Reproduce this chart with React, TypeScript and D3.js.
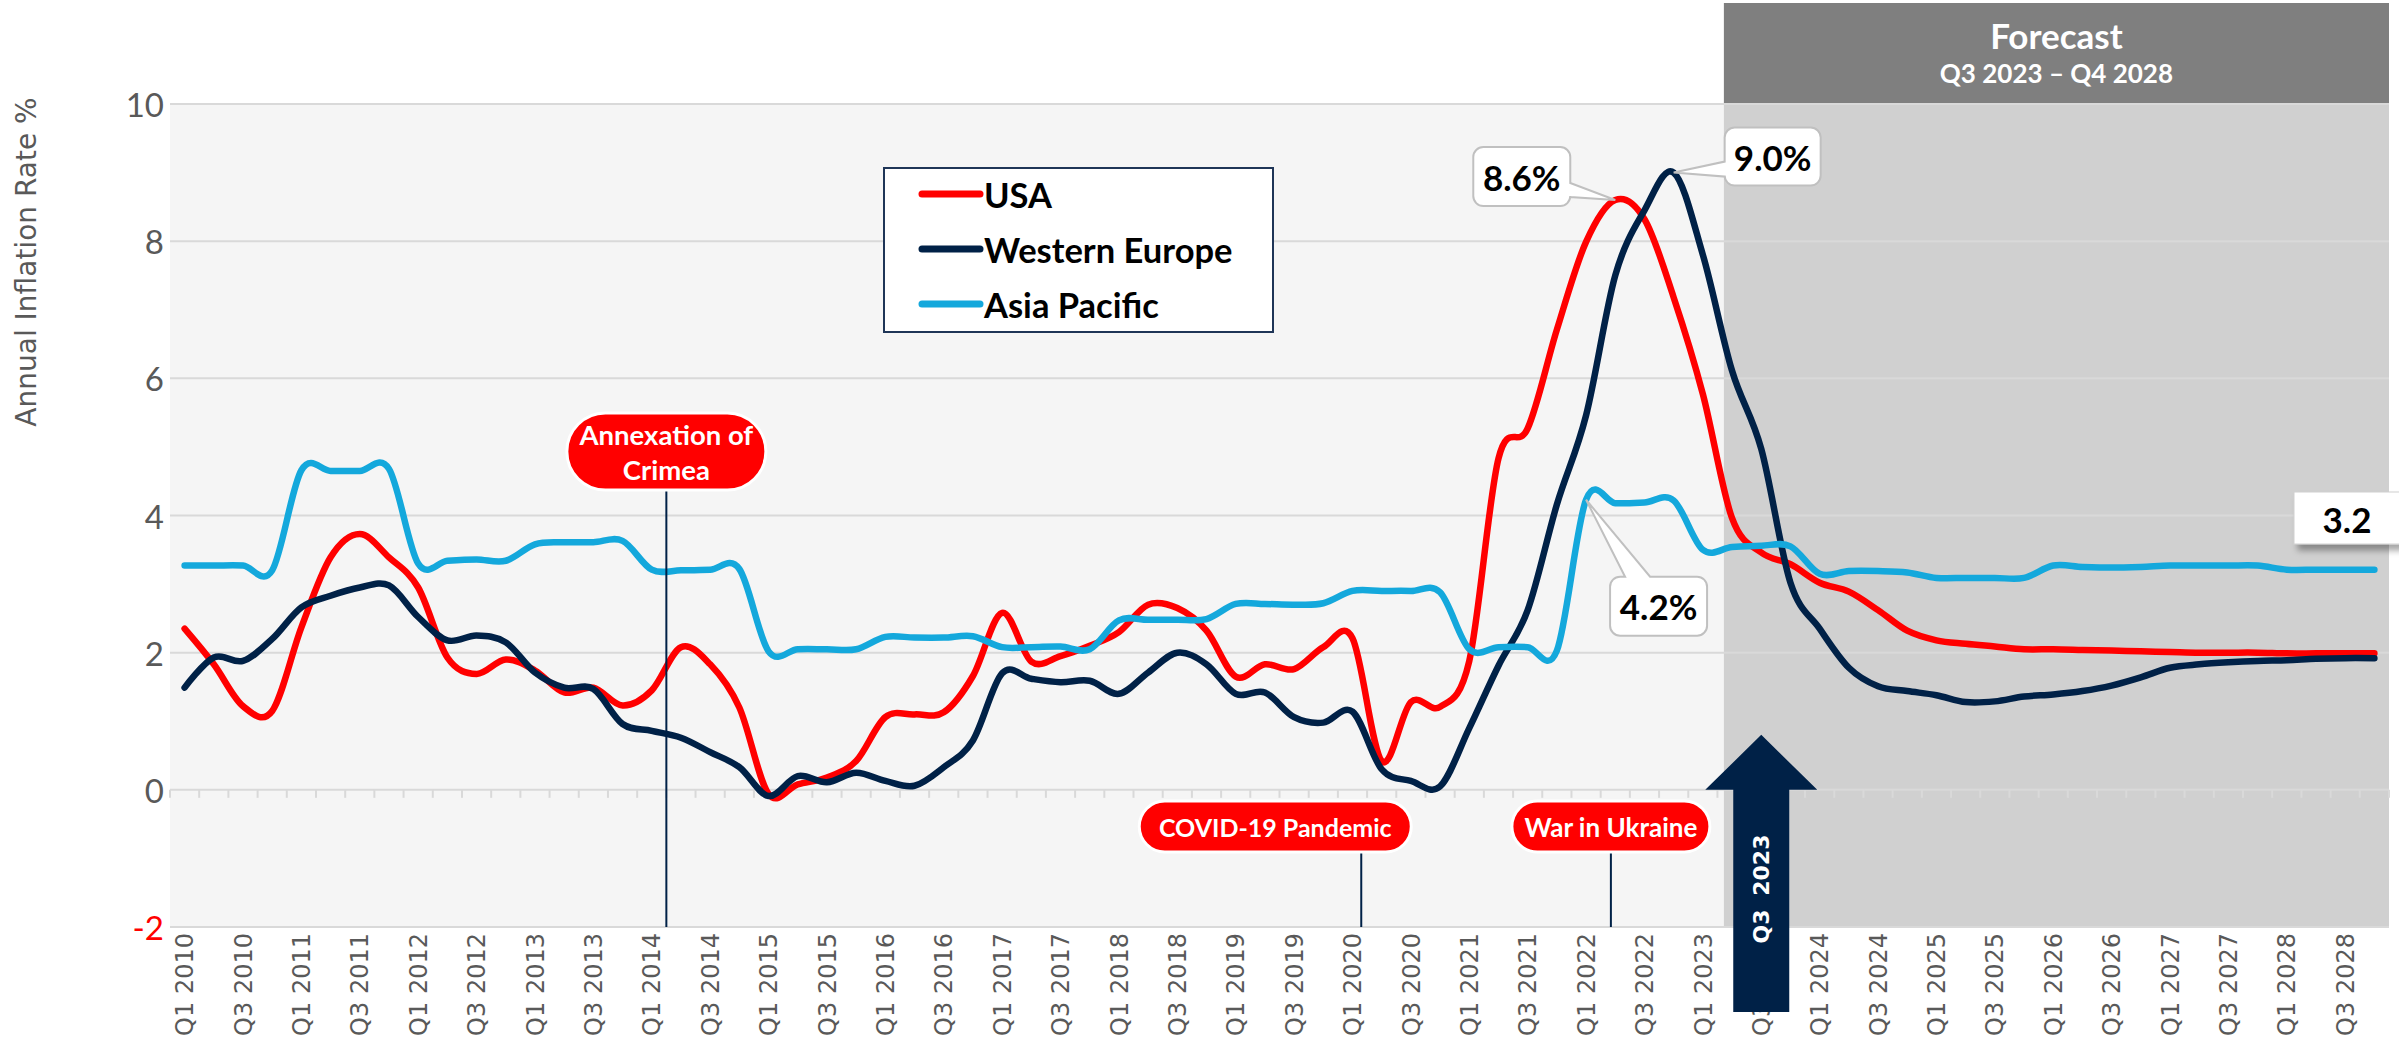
import React from 'react';
import * as d3 from 'd3';

// quarters shown on the axis
const years = [2010, 2011, 2012, 2013, 2014, 2015, 2016, 2017, 2018, 2019, 2020, 2021, 2022, 2023, 2024, 2025, 2026, 2027, 2028];
const quarters = ['Q1', 'Q2', 'Q3', 'Q4'];
const categories = years.flatMap((y) => quarters.map((q) => `${q} ${y}`));
const labelQuarters = ['Q1', 'Q3'];

const usa = [
  2.35, 1.83, 1.22, 1.15, 2.37, 3.39, 3.73, 3.39, 2.95, 1.93, 1.69, 1.9,
  1.74, 1.42, 1.49, 1.23, 1.45, 2.08, 1.83, 1.2, -0.06, 0.08, 0.18, 0.42,
  1.06, 1.1, 1.13, 1.66, 2.58, 1.87, 1.95, 2.1, 2.3, 2.7, 2.65, 2.32,
  1.65, 1.83, 1.76, 2.08, 2.21, 0.42, 1.28, 1.21, 1.88, 4.83, 5.27, 6.71,
  7.99, 8.6, 8.32, 7.18, 5.77, 3.96, 3.46, 3.29, 3.02, 2.89, 2.62, 2.32,
  2.18, 2.13, 2.09, 2.05, 2.05, 2.04, 2.03, 2.02, 2.01, 2.0, 2.0, 2.0,
  1.99, 1.99, 1.99, 1.99,
];
const westernEurope = [
  1.49, 1.93, 1.88, 2.2, 2.66, 2.83, 2.95, 2.98, 2.52, 2.18, 2.25, 2.15,
  1.71, 1.49, 1.47, 0.96, 0.86, 0.76, 0.55, 0.33, -0.09, 0.2, 0.11, 0.25,
  0.13, 0.06, 0.33, 0.72, 1.7, 1.62, 1.57, 1.59, 1.4, 1.71, 2.0, 1.83,
  1.4, 1.42, 1.06, 0.98, 1.14, 0.3, 0.13, 0.05, 0.9, 1.81, 2.62, 4.16,
  5.46, 7.5, 8.45, 9.0, 7.8, 6.11, 4.97, 3.02, 2.35, 1.78, 1.51, 1.44,
  1.38, 1.28, 1.29, 1.36, 1.39, 1.44, 1.52, 1.64, 1.78, 1.83, 1.86, 1.88,
  1.89, 1.91, 1.92, 1.92,
];
const asiaPacific = [
  3.27, 3.27, 3.27, 3.2, 4.66, 4.65, 4.65, 4.68, 3.3, 3.34, 3.36, 3.34,
  3.58, 3.61, 3.61, 3.63, 3.21, 3.2, 3.21, 3.22, 2.02, 2.05, 2.05, 2.05,
  2.23, 2.22, 2.22, 2.24, 2.08, 2.08, 2.09, 2.05, 2.47, 2.48, 2.48, 2.49,
  2.71, 2.71, 2.7, 2.72, 2.9, 2.9, 2.9, 2.88, 2.05, 2.08, 2.08, 2.03,
  4.23, 4.18, 4.19, 4.22, 3.5, 3.54, 3.56, 3.55, 3.15, 3.19, 3.19, 3.17,
  3.09, 3.09, 3.09, 3.09, 3.27, 3.25, 3.24, 3.25, 3.27, 3.27, 3.27, 3.27,
  3.21, 3.21, 3.21, 3.21,
];

const seriesNames = ['USA', 'Western Europe', 'Asia Pacific'];
const seriesColors = ['#ff0000', '#002147', '#14a8dc'];
const yTicks = [-2, 0, 2, 4, 6, 8, 10];

const forecastFrom = 'Q2 2023';
const forecastTitle = 'Forecast';
const forecastRange = 'Q3 2023 \u2013 Q4 2028';
const arrowAt = 'Q3 2023';

// events: label lines, category, offset in bands from the category start
const events = [
  { lines: ['Annexation of', 'Crimea'], cat: 'Q2 2014', off: 0 },
  { lines: ['COVID-19 Pandemic'], cat: 'Q1 2020', off: 0.8 },
  { lines: ['War in Ukraine'], cat: 'Q2 2022', off: 0.35 },
];

const W = 2399;
const H = 1037;
const plot = { left: 170, right: 2389, top: 104, bottom: 927 };
const CAL = "Lato, 'Open Sans', sans-serif";
const VER = "'DejaVu Sans', Verdana, sans-serif";
const GRID = '#d9d9d9';
const NAVY = '#002147';

function callout(x, y, w, h, r, side, a, b, tip) {
  const [tx, ty] = tip;
  let p = `M${x + r},${y}`;
  if (side === 'top') p += `L${x + a},${y}L${tx},${ty}L${x + b},${y}`;
  p += `L${x + w - r},${y}A${r},${r} 0 0 1 ${x + w},${y + r}`;
  if (side === 'right') p += `L${x + w},${y + a}L${tx},${ty}L${x + w},${y + b}`;
  p += `L${x + w},${y + h - r}A${r},${r} 0 0 1 ${x + w - r},${y + h}`;
  p += `L${x + r},${y + h}A${r},${r} 0 0 1 ${x},${y + h - r}`;
  if (side === 'left') p += `L${x},${y + b}L${tx},${ty}L${x},${y + a}`;
  p += `L${x},${y + r}A${r},${r} 0 0 1 ${x + r},${y}Z`;
  return p;
}

export default function App() {
  const x = d3.scaleBand().domain(categories).range([plot.left, plot.right]).padding(0);
  const bw = x.bandwidth();
  const xc = (c) => x(c) + bw / 2;
  const y = d3.scaleLinear().domain([-2, 10]).range([plot.bottom, plot.top]);

  const line = d3
    .line()
    .x((d, i) => xc(categories[i]))
    .y((d) => y(d))
    .curve(d3.curveCardinal.tension(0));

  const series = [usa, westernEurope, asiaPacific];
  const fx = x(forecastFrom) + bw * 0.22;

  // peaks for the callouts
  const iUsa = d3.maxIndex(usa);
  const iWe = d3.maxIndex(westernEurope);
  const iAp = d3.maxIndex(asiaPacific.slice(40)) + 40;
  const tipUsa = [xc(categories[iUsa]), y(usa[iUsa])];
  const tipWe = [xc(categories[iWe]), y(westernEurope[iWe])];
  const tipAp = [xc(categories[iAp]), y(asiaPacific[iAp])];

  const ax = xc(arrowAt);
  const ay = y(0);
  const lastAp = asiaPacific[asiaPacific.length - 1];
  const xfs = 24;
  const pillFont = [27.5, 25, 26];

  return (
    <svg width={W} height={H} style={{ position: 'absolute', left: 0, top: 0, display: 'block' }}>
      <defs>
        <filter id="shadow" x="-20%" y="-20%" width="150%" height="160%">
          <feDropShadow dx="4" dy="6" stdDeviation="3" floodColor="#000" floodOpacity="0.35" />
        </filter>
      </defs>
      <rect x={plot.left} y={plot.top} width={plot.right - plot.left} height={plot.bottom - plot.top} fill="#f5f5f5" />
      <rect x={fx} y={plot.top} width={plot.right - fx} height={plot.bottom - plot.top} fill="#d0d0d0" />
      <rect x={fx} y={3} width={plot.right - fx} height={plot.top - 3} fill="#7f7f7f" />
      <text x={(fx + plot.right) / 2} y={35} fill="#fff" fontFamily={CAL} fontWeight="bold" fontSize={35} textAnchor="middle" dominantBaseline="central">{forecastTitle}</text>
      <text x={(fx + plot.right) / 2} y={73} fill="#fff" fontFamily={CAL} fontWeight="bold" fontSize={26} textAnchor="middle" dominantBaseline="central">{forecastRange}</text>

      {yTicks.map((t) => (
        <g key={t}>
          <line x1={plot.left} x2={plot.right} y1={y(t)} y2={y(t)} stroke={GRID} strokeWidth={2} />
          <text x={164} y={y(t)} fill={t < 0 ? '#ff0000' : '#595959'} fontFamily={CAL} fontSize={33} textAnchor="end" dominantBaseline="central">{t}</text>
        </g>
      ))}
      {d3.range(categories.length + 1).map((i) => (
        <line key={i} x1={plot.left + i * bw} x2={plot.left + i * bw} y1={y(0)} y2={y(0) + 8} stroke={GRID} strokeWidth={2} />
      ))}
      {categories.filter((c) => labelQuarters.includes(c.slice(0, 2))).map((c) => (
        <text key={c} transform={`translate(${xc(c) + xfs * 0.36},933) rotate(-90)`} fill="#595959" fontFamily={VER} fontSize={xfs} textAnchor="end">{c}</text>
      ))}
      <text transform="translate(26,262) rotate(-90)" fill="#595959" fontFamily={VER} fontSize={28} textAnchor="middle" dominantBaseline="central">Annual Inflation Rate %</text>

      {series.map((s, k) => (
        <path key={k} d={line(s)} fill="none" stroke={seriesColors[k]} strokeWidth={6.5} strokeLinecap="round" strokeLinejoin="round" />
      ))}

      {events.map((e, k) => {
        const lx = x(e.cat) + bw * e.off;
        const top = k === 0;
        const w = k === 0 ? 199 : k === 1 ? 272 : 198;
        const h = top ? 77 : 51;
        const py = top ? 413 : 801;
        const px = k === 1 ? lx - 222 : lx - w / 2;
        return (
          <g key={k}>
            <line x1={lx} x2={lx} y1={py + h} y2={plot.bottom} stroke={NAVY} strokeWidth={2} />
            <rect x={px} y={py} width={w} height={h} rx={h / 2} fill="#ff0000" stroke="#fff" strokeWidth={3} />
            {e.lines.map((t, j) => (
              <text key={j} x={px + w / 2} y={py + h / 2 + (j - (e.lines.length - 1) / 2) * 35} fill="#fff" fontFamily={CAL} fontWeight="bold" fontSize={pillFont[k]} textAnchor="middle" dominantBaseline="central">{t}</text>
            ))}
          </g>
        );
      })}

      <path d={callout(tipUsa[0] - 142, tipUsa[1] - 53, 97, 59, 10, 'right', 36, 50, tipUsa)} fill="#fff" stroke="#c0c0c0" strokeWidth={2} />
      <text x={tipUsa[0] - 93.5} y={tipUsa[1] - 23.5} fontFamily={CAL} fontWeight="bold" fontSize={35} textAnchor="middle" dominantBaseline="central">{`${usa[iUsa].toFixed(1)}%`}</text>
      <path d={callout(tipWe[0] + 51, tipWe[1] - 45, 96, 58, 10, 'left', 34, 49, tipWe)} fill="#fff" stroke="#c0c0c0" strokeWidth={2} />
      <text x={tipWe[0] + 99} y={tipWe[1] - 16} fontFamily={CAL} fontWeight="bold" fontSize={35} textAnchor="middle" dominantBaseline="central">{`${westernEurope[iWe].toFixed(1)}%`}</text>
      <path d={callout(tipAp[0] + 24, tipAp[1] + 77, 97, 59, 10, 'top', 15, 40, tipAp)} fill="#fff" stroke="#c0c0c0" strokeWidth={2} />
      <text x={tipAp[0] + 72.5} y={tipAp[1] + 106.5} fontFamily={CAL} fontWeight="bold" fontSize={35} textAnchor="middle" dominantBaseline="central">{`${asiaPacific[iAp].toFixed(1)}%`}</text>

      <rect x={2294} y={492} width={120} height={52} fill="#fff" stroke="#d0d0d0" strokeWidth={1} filter="url(#shadow)" />
      <text x={2347} y={519} fontFamily={CAL} fontWeight="bold" fontSize={35} textAnchor="middle" dominantBaseline="central">{lastAp.toFixed(1)}</text>

      <path d={`M${ax},${ay - 55}L${ax + 56},${ay}L${ax + 28},${ay}L${ax + 28},1012L${ax - 28},1012L${ax - 28},${ay}L${ax - 56},${ay}Z`} fill={NAVY} />
      <text transform={`translate(${ax},889) rotate(-90)`} fill="#fff" fontFamily={VER} fontWeight="bold" fontSize={22} wordSpacing={6} textAnchor="middle" dominantBaseline="central">{arrowAt}</text>

      <rect x={884} y={168} width={389} height={164} fill="#fff" stroke="#1f3557" strokeWidth={2} />
      {seriesNames.map((n, k) => (
        <g key={n}>
          <line x1={922} x2={980} y1={194 + k * 55} y2={194 + k * 55} stroke={seriesColors[k]} strokeWidth={7} strokeLinecap="round" />
          <text x={984} y={194 + k * 55} fontFamily={CAL} fontWeight="bold" fontSize={34.5} dominantBaseline="central">{n}</text>
        </g>
      ))}
    </svg>
  );
}
